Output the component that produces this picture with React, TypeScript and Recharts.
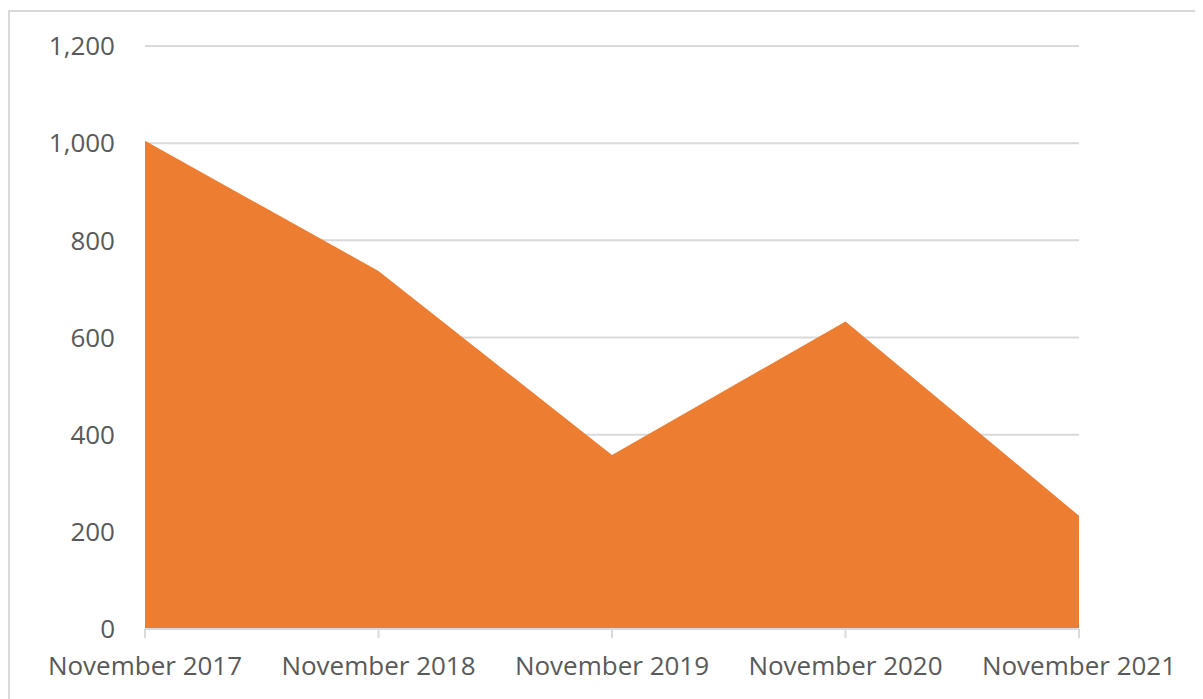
import { AreaChart, Area, XAxis, YAxis, CartesianGrid } from "recharts";

const months = [
  "November 2017",
  "November 2018",
  "November 2019",
  "November 2020",
  "November 2021",
];
const counts = [1005, 737, 358, 633, 233];
const yTicks = [0, 200, 400, 600, 800, 1000, 1200];

const data = months.map((m, i) => ({ month: m, count: counts[i] }));

const grey = "#d9d9d9";
const textColor = "#595959";
const font = "'Open Sans', Lato, sans-serif";

export default function App() {
  return (
    <div
      style={{
        marginTop: 2,
        width: 1210,
        height: 700,
        borderTop: `2px solid ${grey}`,
        borderLeft: `2px solid ${grey}`,
        fontFamily: font,
      }}
    >
      <AreaChart
        width={1190}
        height={690}
        data={data}
        margin={{ top: 34, right: 121, left: 35, bottom: 33 }}
      >
        <CartesianGrid vertical={false} stroke={grey} strokeWidth={2} />
        <XAxis
          dataKey="month"
          axisLine={{ stroke: grey, strokeWidth: 2 }}
          tickLine={{ stroke: grey, strokeWidth: 2 }}
          tickSize={9}
          tickMargin={19}
          height={40}
          interval={0}
          tick={{ fill: textColor, fontSize: 26, fontFamily: font }}
        />
        <YAxis
          width={100}
          domain={[0, 1200]}
          ticks={yTicks}
          axisLine={false}
          tickLine={false}
          tickSize={0}
          tickMargin={30}
          tickFormatter={(v: number) => v.toLocaleString("en-US")}
          tick={{ fill: textColor, fontSize: 26, fontFamily: font }}
        />
        <Area
          type="linear"
          dataKey="count"
          stroke="none"
          fill="#ED7D31"
          fillOpacity={1}
          isAnimationActive={false}
        />
      </AreaChart>
    </div>
  );
}
